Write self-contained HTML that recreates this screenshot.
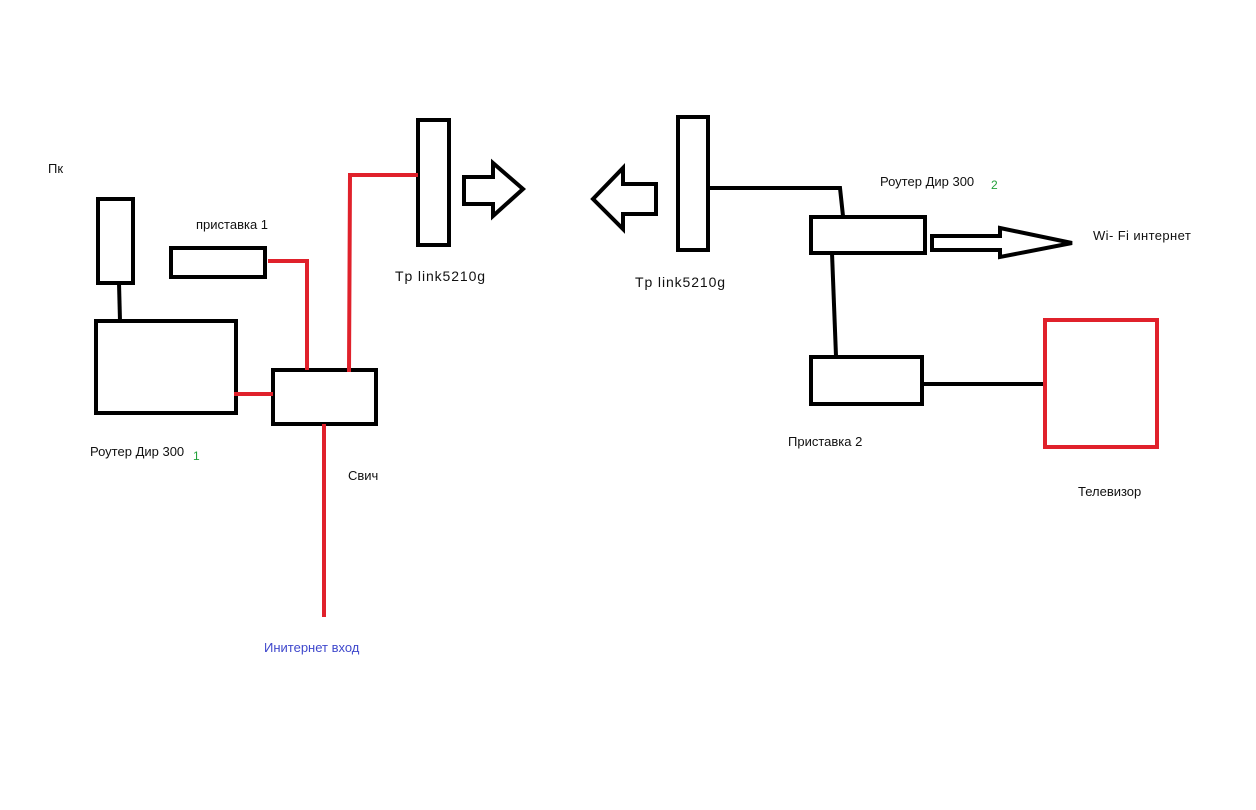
<!DOCTYPE html>
<html><head><meta charset="utf-8"><style>
html,body{margin:0;padding:0;background:#fff;}
svg{display:block;}
text{font-family:"Liberation Sans","DejaVu Sans",sans-serif;font-size:13px;fill:#111;}
.tp{font-size:14px;letter-spacing:0.9px;}
</style></head><body>
<svg width="1256" height="810" viewBox="0 0 1256 810" xmlns="http://www.w3.org/2000/svg">
<g fill="none" stroke="#000" stroke-width="4">
<rect x="98" y="199" width="35" height="84"/>
<rect x="96" y="321" width="140" height="92"/>
<line x1="119" y1="283" x2="120" y2="321"/>
<rect x="171" y="248" width="94" height="29"/>
<rect x="273" y="370" width="103" height="54"/>
<rect x="418" y="120" width="31" height="125"/>
<polygon points="464,177 493,177 493,163 523,189 493,216 493,204 464,204"/>
<polygon points="656,184 623,184 623,168 593,199 623,229 623,214 656,214"/>
<rect x="678" y="117" width="30" height="133"/>
<polyline points="708,188 840,188 843,216"/>
<rect x="811" y="217" width="114" height="36"/>
<polygon points="932,236 1000,236 1000,228 1072,243 1000,257 1000,250 932,250"/>
<line x1="832" y1="253" x2="836" y2="356"/>
<rect x="811" y="357" width="111" height="47"/>
<line x1="922" y1="384" x2="1044" y2="384"/>
</g>
<g fill="none" stroke="#e0212b" stroke-width="4">
<line x1="234" y1="394" x2="273" y2="394"/>
<polyline points="268,261 307,261 307,370"/>
<polyline points="349,372 350,175 418,175"/>
<line x1="324" y1="424" x2="324" y2="617"/>
<rect x="1045" y="320" width="112" height="127"/>
</g>
<text x="48" y="173">Пк</text>
<text x="196" y="229">приставка 1</text>
<text x="395" y="281" class="tp">Tp link5210g</text>
<text x="90" y="456">Роутер Дир 300</text>
<text x="193" y="460" style="fill:#22a03a;font-size:12px">1</text>
<text x="348" y="480">Свич</text>
<text x="264" y="652" style="fill:#3f48cc">Инитернет вход</text>
<text x="635" y="287" class="tp">Tp link5210g</text>
<text x="880" y="186">Роутер Дир 300</text>
<text x="991" y="189" style="fill:#22a03a;font-size:12px">2</text>
<text x="1093" y="240" style="letter-spacing:0.4px">Wi- Fi интернет</text>
<text x="788" y="446">Приставка 2</text>
<text x="1078" y="496">Телевизор</text>
</svg>
</body></html>
